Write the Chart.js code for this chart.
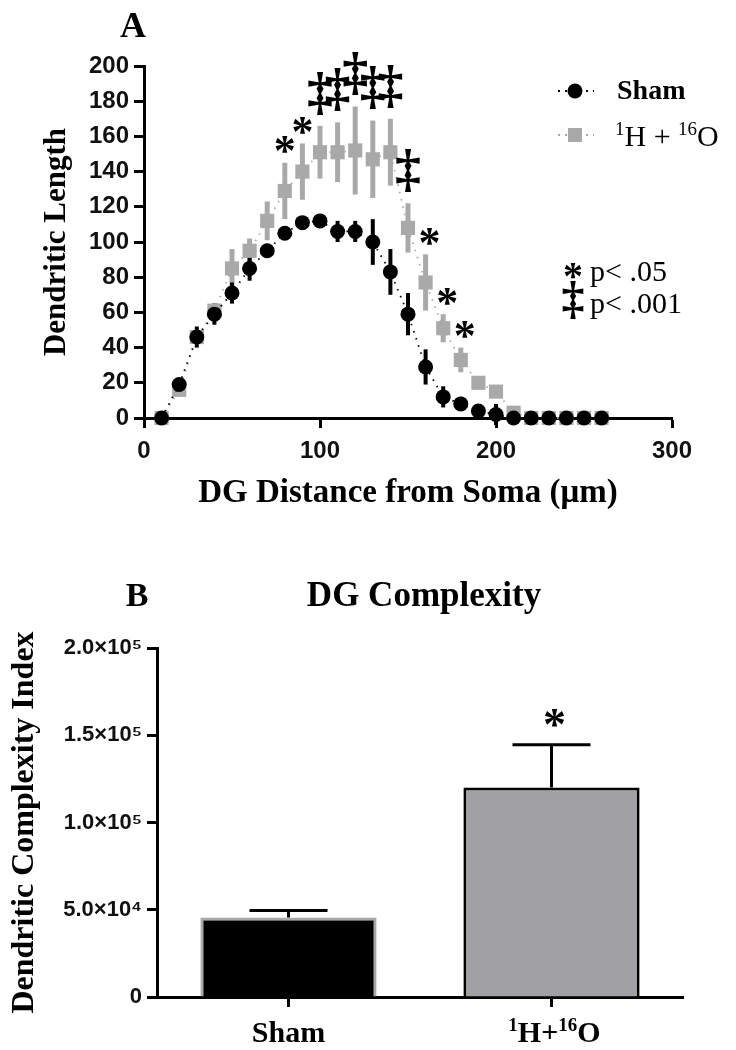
<!DOCTYPE html>
<html><head><meta charset="utf-8">
<script src="https://cdn.jsdelivr.net/npm/chart.js@4.4.1/dist/chart.umd.min.js"></script>
<style>
html,body{margin:0;padding:0;background:#fff;width:736px;height:1050px;overflow:hidden;}
#wrapA{position:absolute;left:0;top:0;width:736px;height:540px;}
#wrapB{position:absolute;left:0;top:540px;width:736px;height:510px;}
canvas{display:block;}
</style></head><body>
<div id="wrapA"><canvas id="cA" width="736" height="540"></canvas></div>
<div id="wrapB"><canvas id="cB" width="736" height="510"></canvas></div>
<script>
// ---------- DATA: panel A (Sholl profile) ----------
const distances  = [10,20,30,40,50,60,70,80,90,100,110,120,130,140,150,160,170,180,190,200,210,220,230,240,250,260];
const shamLength = [0,19,46,59,71,85,95,105,111,112,106,106,100,83,59,29,12,8,4,2,0,0,0,0,0,0];
const shamSEM    = [0,2,6,6,6,7,3,3,3,3,6,6,13,13,12,10,6,4,2,6,0,0,0,0,0,0];
const hoLength   = [0,16,46,61,85,95,112,129,140,151,151,152,147,151,108,77,51,33,20,15,3,0,0,0,0,0];
const hoSEM      = [0,2,3,4,11,7,11,16,16,15,17,25,22,19,14,16,8,7,3,3,1,0,0,0,0,0];
const sigDistances = [80,90,100,110,120,130,140,150,160,170,180];
const sigSymbols   = ['*','*','‡','‡','‡','‡','‡','‡','*','*','*'];
const seriesNames  = ['Sham','¹H + ¹⁶O'];

// ---------- DATA: panel B (complexity index) ----------
const groupsB        = ['Sham','¹H+¹⁶O'];
const complexity     = [45500,120000];
const complexitySEM  = [4000,24500];
const complexitySig  = ['','*'];
const yTickValuesB   = [0,50000,100000,150000,200000];
const yTickLabelsB   = ['0','5.0×10⁴','1.0×10⁵','1.5×10⁵','2.0×10⁵'];

// ---------- styles ----------
const SERIF = '"Liberation Serif","Times New Roman",serif';
const SANS  = '"Liberation Sans",Arial,sans-serif';
const GRAY  = '#a9a9a9';
const BARGRAY = '#a1a1a5';
Chart.defaults.color = '#000';
Chart.defaults.animation = false;

function richText(ctx, parts, x, y, size, weight, align){
  ctx.save();
  ctx.textAlign = 'left'; ctx.textBaseline = 'alphabetic'; ctx.fillStyle = '#000';
  const fonts = parts.map(p => `${weight} ${p[1] ? Math.round(size*0.62) : size}px ${SERIF}`);
  let total = 0;
  parts.forEach((p,i)=>{ ctx.font = fonts[i]; total += ctx.measureText(p[0]).width; });
  let cx = align === 'center' ? x - total/2 : x;
  parts.forEach((p,i)=>{ ctx.font = fonts[i]; ctx.fillText(p[0], cx, p[1] ? y - size*0.36 : y); cx += ctx.measureText(p[0]).width; });
  ctx.restore();
}
function sym(ctx, s, x, cy, size){
  ctx.save();
  ctx.fillStyle = '#000'; ctx.textAlign = 'center'; ctx.textBaseline = 'alphabetic';
  ctx.font = `bold ${size}px ${SERIF}`;
  const off = s === '‡' ? 0.265 : 0.47;
  ctx.fillText(s, x, cy + off*size);
  ctx.restore();
}

const axisCommon = {
  border:{display:true,color:'#000',width:3},
  grid:{display:true,drawOnChartArea:false,drawTicks:true,tickLength:10,tickWidth:3,tickColor:'#000'}
};

// ---------- Panel A ----------
const pluginA = {
  id:'panelA',
  beforeDatasetsDraw(chart){
    const {ctx, scales:{x,y}} = chart;
    [[hoLength,hoSEM,GRAY,5],[shamLength,shamSEM,'#000',4]].forEach(([vals,errs,col,w])=>{
      ctx.save(); ctx.strokeStyle = col; ctx.lineWidth = w;
      vals.forEach((v,i)=>{
        if(!errs[i]) return;
        const px = x.getPixelForValue(distances[i]);
        ctx.beginPath();
        ctx.moveTo(px, y.getPixelForValue(v+errs[i]));
        ctx.lineTo(px, y.getPixelForValue(v-errs[i]));
        ctx.stroke();
      });
      ctx.restore();
    });
  },
  afterDraw(chart){
    const {ctx, scales:{x,y}} = chart;
    // significance markers
    sigDistances.forEach((d,k)=>{
      const i = distances.indexOf(d);
      const top = y.getPixelForValue(hoLength[i]+hoSEM[i]);
      const s = sigSymbols[k];
      const px = x.getPixelForValue(d) + (d >= 160 ? 4 : 0);
      if (s === '‡') sym(ctx, s, px, top - 31, 52);
      else sym(ctx, s, px, top - 18, 44);
    });
    // panel letter
    ctx.save(); ctx.fillStyle='#000'; ctx.font = `bold 36px ${SERIF}`; ctx.textAlign='center'; ctx.textBaseline='alphabetic';
    ctx.fillText('A', 133, 37); ctx.restore();
    // legend
    ctx.save();
    ctx.setLineDash([2,5]); ctx.lineWidth = 2; ctx.strokeStyle = '#000';
    ctx.beginPath(); ctx.moveTo(558,91); ctx.lineTo(594,91); ctx.stroke();
    ctx.strokeStyle = GRAY;
    ctx.beginPath(); ctx.moveTo(558,135); ctx.lineTo(594,135); ctx.stroke();
    ctx.setLineDash([]);
    ctx.fillStyle = '#000'; ctx.beginPath(); ctx.arc(575,91,7.5,0,Math.PI*2); ctx.fill();
    ctx.fillStyle = GRAY; ctx.fillRect(568,128,14,14);
    ctx.fillStyle = '#000'; ctx.font = `bold 28px ${SERIF}`; ctx.textAlign='left'; ctx.textBaseline='middle';
    ctx.fillText(seriesNames[0], 617, 92);
    ctx.restore();
    richText(ctx, [['1',true],['H + ',false],['16',true],['O',false]], 615, 146, 30, 'normal', 'left');
    sym(ctx, '*', 573, 270, 40);
    ctx.save(); ctx.fillStyle='#000'; ctx.font = `30px ${SERIF}`; ctx.textAlign='left'; ctx.textBaseline='alphabetic';
    ctx.fillText('p< .05', 590, 281);
    ctx.fillText('p< .001', 590, 313);
    ctx.restore();
    sym(ctx, '‡', 573, 301, 46);
  }
};

new Chart(document.getElementById('cA'), {
  type:'scatter',
  data:{datasets:[
    {label:seriesNames[0], data:distances.map((d,i)=>({x:d,y:shamLength[i]})),
     showLine:true, borderColor:'#000', borderWidth:1.8, borderDash:[1.5,6],
     pointStyle:'circle', pointRadius:7.5, pointBackgroundColor:'#000', pointBorderWidth:0, clip:false},
    {label:seriesNames[1], data:distances.map((d,i)=>({x:d,y:hoLength[i]})),
     showLine:true, borderColor:GRAY, borderWidth:1.8, borderDash:[1.5,6],
     pointStyle:'rect', pointRadius:10, pointBackgroundColor:GRAY, pointBorderWidth:0, clip:false}
  ]},
  options:{
    responsive:false, animation:false,
    layout:{padding:{top:66,right:64,left:0,bottom:0}},
    plugins:{legend:{display:false},tooltip:{enabled:false}},
    scales:{
      x:{type:'linear',min:0,max:300,...axisCommon,
         ticks:{stepSize:100,padding:9,font:{family:SANS,size:24,weight:'bold'},color:'#111'},
         title:{display:true,text:'DG Distance from Soma (μm)',font:{family:SERIF,size:33,weight:'bold'},padding:{top:0,bottom:27}},
         afterFit(s){ s.height = 122; }},
      y:{type:'linear',min:0,max:200,...axisCommon,
         ticks:{stepSize:20,padding:5,font:{family:SANS,size:24,weight:'bold'},color:'#111'},
         title:{display:true,text:'Dendritic Length',font:{family:SERIF,size:31,weight:'bold'},padding:{top:38,bottom:0}},
         afterFit(s){ s.width = 144; }}
    }
  },
  plugins:[pluginA]
});

// ---------- Panel B ----------
const pluginB = {
  id:'panelB',
  afterDatasetsDraw(chart){
    const {ctx, scales:{x,y}, chartArea} = chart;
    ctx.save(); ctx.strokeStyle='#000'; ctx.lineWidth=3;
    complexity.forEach((v,i)=>{
      const px = x.getPixelForValue(i);
      const py0 = y.getPixelForValue(v), py1 = y.getPixelForValue(v+complexitySEM[i]);
      ctx.beginPath(); ctx.moveTo(px,py0); ctx.lineTo(px,py1);
      ctx.moveTo(px-39,py1); ctx.lineTo(px+39,py1); ctx.stroke();
      if (complexitySig[i]) sym(ctx, complexitySig[i], px+3, py1-26, 46);
    });
    ctx.restore();
    // category labels
    const parts = [[['Sham',false]], [['1',true],['H+',false],['16',true],['O',false]]];
    groupsB.forEach((g,i)=>{
      richText(ctx, parts[i], x.getPixelForValue(i)+(i?3:0), chartArea.bottom+45, 30, 'bold', 'center');
    });
    ctx.save(); ctx.fillStyle='#000'; ctx.textBaseline='alphabetic'; ctx.textAlign='center';
    ctx.font = `bold 34px ${SERIF}`; ctx.fillText('B', 137, 66);
    ctx.font = `bold 35px ${SERIF}`; ctx.fillText('DG Complexity', 424, 66);
    ctx.restore();
  }
};

new Chart(document.getElementById('cB'), {
  type:'bar',
  data:{labels:groupsB, datasets:[{
    data:complexity, backgroundColor:['#000',BARGRAY], borderColor:['#a8a8a8','#000'],
    borderWidth:3, barPercentage:0.67, categoryPercentage:1
  }]},
  options:{
    responsive:false, animation:false,
    layout:{padding:{top:108,right:53,left:0,bottom:0}},
    plugins:{legend:{display:false},tooltip:{enabled:false}},
    scales:{
      x:{type:'category',...axisCommon,
         grid:{...axisCommon.grid,offset:false},
         ticks:{display:false},
         afterFit(s){ s.height = 53; }},
      y:{type:'linear',min:0,max:200000,...axisCommon,
         ticks:{stepSize:50000,padding:5,font:{family:SANS,size:22,weight:'bold'},color:'#111',
                callback:(v)=>{const i=yTickValuesB.indexOf(v);return i>=0?yTickLabelsB[i]:'';}},
         title:{display:true,text:'Dendritic Complexity Index',font:{family:SERIF,size:32,weight:'bold'},padding:{top:6,bottom:0}},
         afterFit(s){ s.width = 157; }}
    }
  },
  plugins:[pluginB]
});
</script>
</body></html>
